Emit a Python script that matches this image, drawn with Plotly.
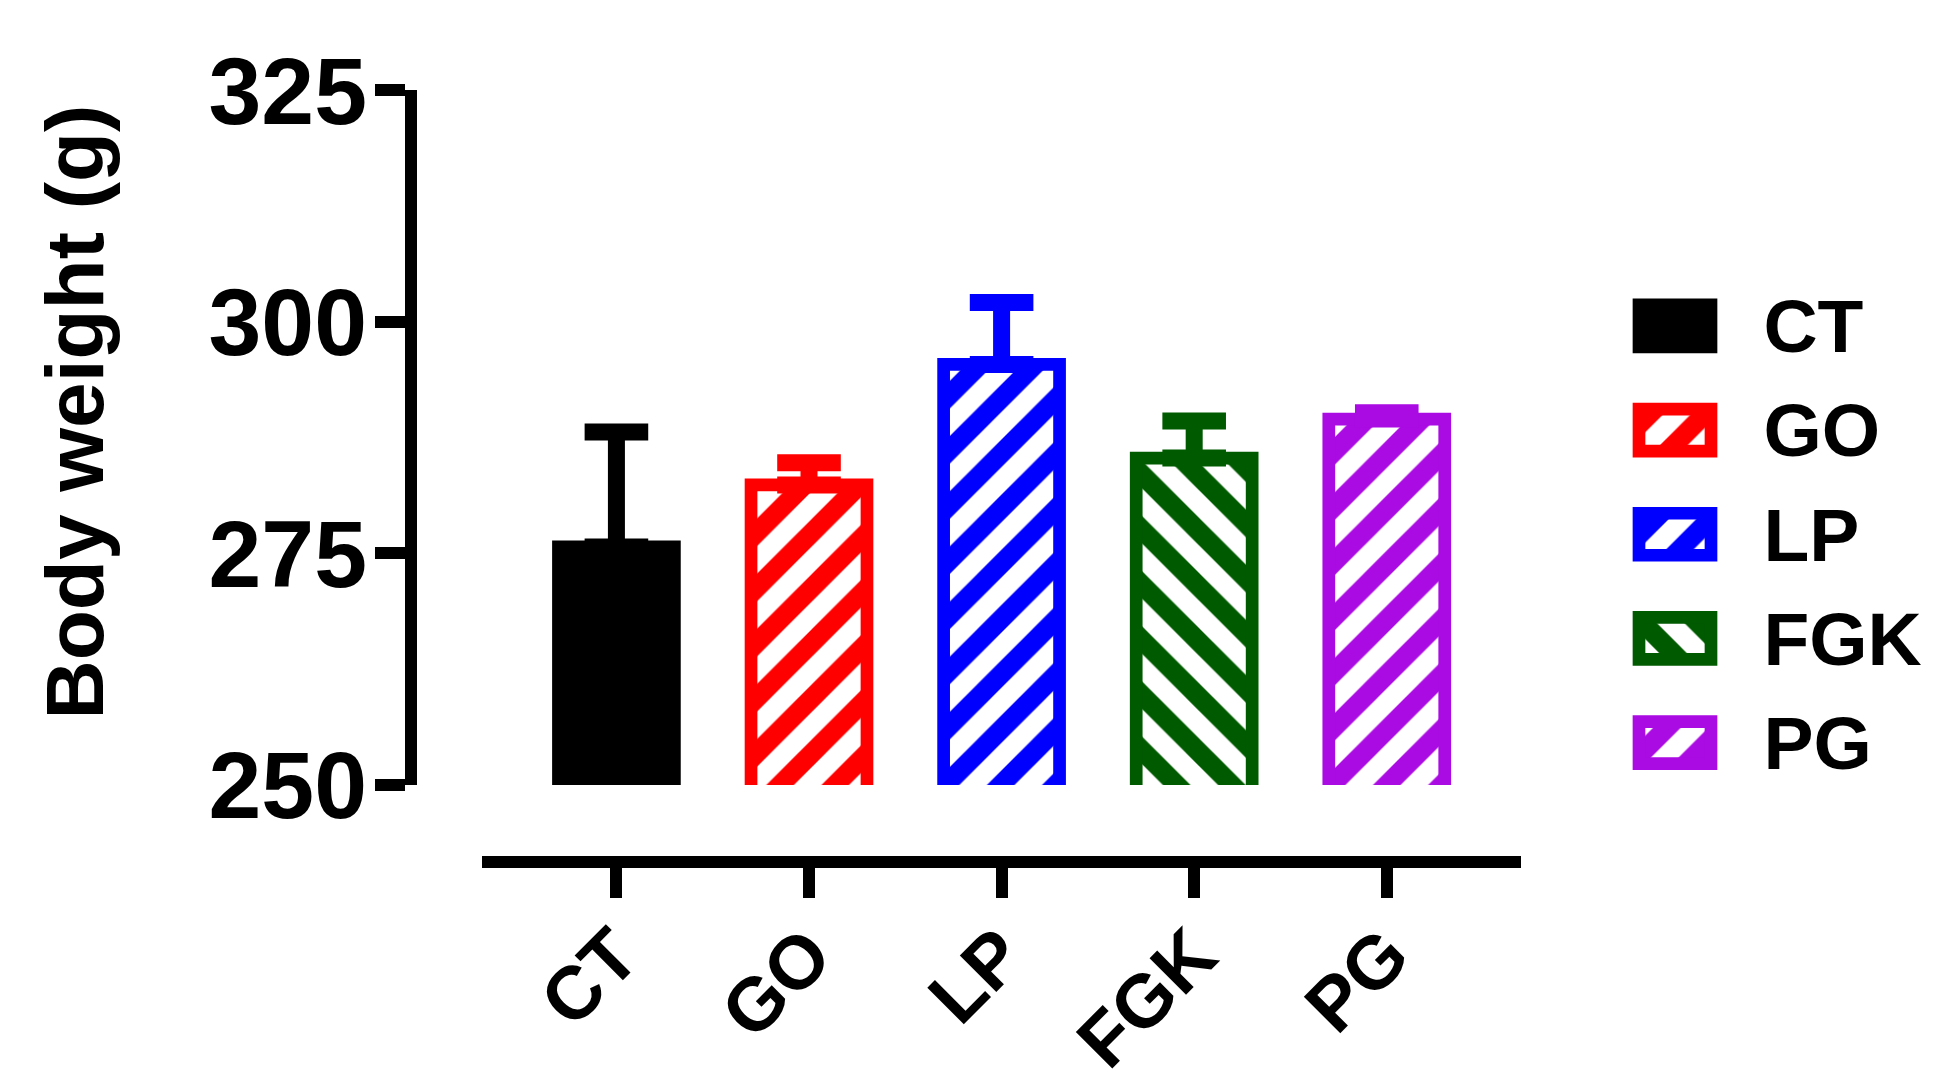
import plotly.graph_objects as go

W, H = 1947, 1091

# ---- data ----
categories = ["CT", "GO", "LP", "FGK", "PG"]
means = [275.7, 282.4, 295.4, 285.3, 289.5]
sems = [12.4, 2.4, 6.7, 4.0, 0.7]
colors = ["#000000", "#FF0000", "#0000FF", "#005A00", "#AA0BE2"]
hatch = ["", "/", "/", "\\", "/"]
y_ticks = [250, 275, 300, 325]
y_title = "Body weight (g)"

FONT = "Liberation Sans, Arial, sans-serif"
LW = 12  # axis line width
BORDER = 12.7


def px_x(p):
    return p / W


def px_y(p):
    return 1 - p / H


def marker_for(i):
    if hatch[i]:
        return dict(
            color="white",
            line=dict(color=colors[i], width=BORDER),
            pattern=dict(shape=hatch[i], fgcolor=colors[i], bgcolor="white",
                         size=39, solidity=0.5, fillmode="replace"),
        )
    return dict(color=colors[i], line=dict(color=colors[i], width=BORDER))


fig = go.Figure()

for i, cat in enumerate(categories):
    fig.add_trace(go.Bar(
        x=[cat], y=[means[i]], width=0.602,
        marker=marker_for(i),
        error_y=dict(type="data", array=[sems[i]], arrayminus=[0], symmetric=False,
                     color=colors[i], thickness=17, width=31.8),
        xaxis="x", yaxis="y", showlegend=False, name=cat,
    ))

# legend drawn as a small subplot of swatches
for i, cat in enumerate(categories):
    fig.add_trace(go.Bar(
        y=[cat], x=[1], orientation="h", width=0.403,
        marker=marker_for(i),
        xaxis="x2", yaxis="y2", showlegend=False, name=cat,
    ))

fig.update_layout(
    width=W, height=H,
    margin=dict(l=0, r=0, t=0, b=0, autoexpand=False),
    paper_bgcolor="white", plot_bgcolor="white",
    barmode="overlay",
    showlegend=False,
    font=dict(family=FONT, color="black"),
    xaxis=dict(
        domain=[px_x(482), px_x(1521)],
        anchor="free", position=px_y(862),
        type="category", categoryorder="array", categoryarray=categories,
        range=[-0.698, 4.697],
        showline=True, linewidth=LW, linecolor="black",
        ticks="outside", ticklen=30, tickwidth=LW, tickcolor="black",
        tickangle=-45, ticklabelstandoff=-17,
        tickfont=dict(family=FONT, size=75, weight="bold", color="black"),
        showgrid=False, zeroline=False, fixedrange=True,
    ),
    yaxis=dict(
        domain=[px_y(785), px_y(90.3)],
        anchor="free", position=px_x(411),
        range=[250, 325], tickvals=y_ticks,
        showline=True, linewidth=LW, linecolor="black",
        ticks="outside", ticklen=30, tickwidth=LW, tickcolor="black",
        ticklabelstandoff=-11,
        tickfont=dict(family=FONT, size=95, weight="bold", color="black"),
        showgrid=False, zeroline=False, fixedrange=True,
    ),
    xaxis2=dict(
        domain=[px_x(1624.6), px_x(1725.4)], anchor="y2",
        range=[-0.2, 1.2], visible=False, fixedrange=True,
    ),
    yaxis2=dict(
        domain=[px_y(794.8), px_y(273.7)], anchor="x2", side="right",
        type="category", categoryorder="array", categoryarray=categories,
        range=[4.5, -0.5],
        showline=False, ticks="", showgrid=False, zeroline=False,
        ticklabelstandoff=37,
        tickfont=dict(family=FONT, size=75, weight="bold", color="black"),
        fixedrange=True,
    ),
    annotations=[dict(
        text=y_title, textangle=-90, showarrow=False,
        xref="paper", yref="paper", x=px_x(73.5), y=px_y(412),
        xanchor="center", yanchor="middle",
        font=dict(family=FONT, size=82, weight="bold", color="black"),
    )],
)

fig.write_html(
    "out.html",
    config={"displayModeBar": False},
    post_script="document.body.style.margin='0';document.body.style.overflow='hidden';",
)
